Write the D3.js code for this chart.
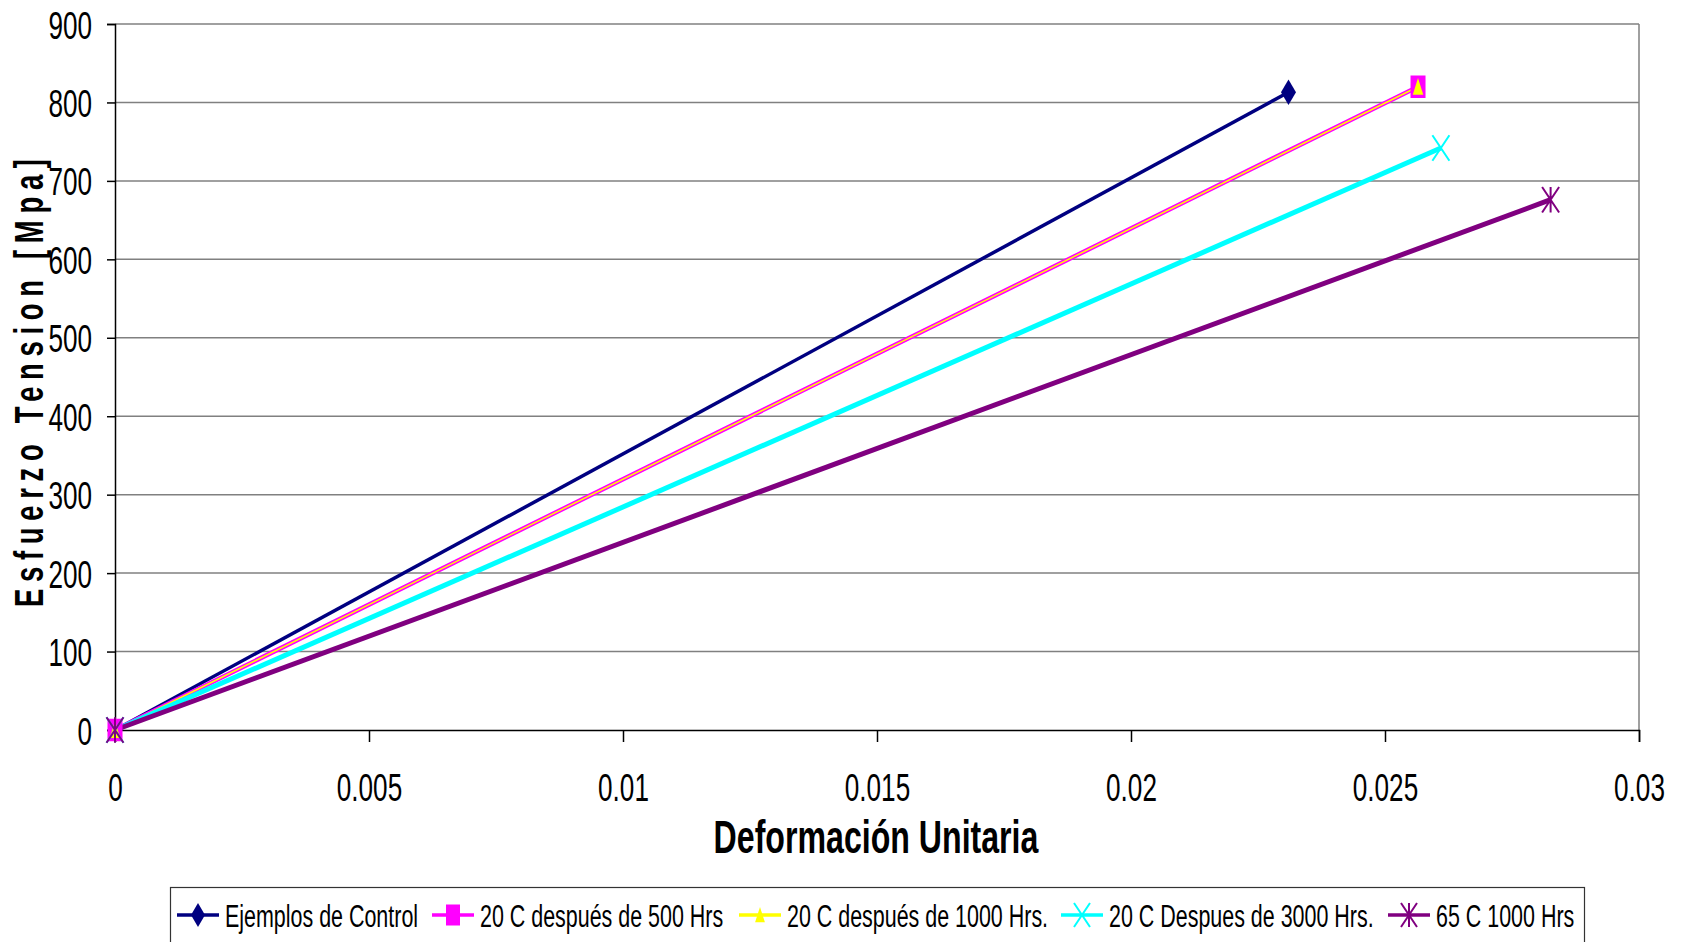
<!DOCTYPE html>
<html>
<head>
<meta charset="utf-8">
<script src="https://cdn.jsdelivr.net/npm/d3@7"></script>
<style>
  body { margin: 0; background: #fff; }
  svg { display: block; font-family: "Liberation Sans", Arial, sans-serif; }
</style>
</head>
<body>
<div id="chart-area"></div>
<script>
// series data: each run goes from the origin to its failure point
const seriesNames = ["Ejemplos de Control", "20 C después de 500 Hrs", "20 C después de 1000 Hrs.", "20 C Despues de 3000 Hrs.", "65 C 1000 Hrs"];
const strainValues = [[0, 0.0231], [0, 0.02565], [0, 0.02565], [0, 0.0261], [0, 0.02826]];
const stressValues = [[0, 813], [0, 820], [0, 820], [0, 742], [0, 676]];
const xTicks = [0, 0.005, 0.01, 0.015, 0.02, 0.025, 0.03];
const yTicks = [0, 100, 200, 300, 400, 500, 600, 700, 800, 900];

const colors = ["#000080", "#ff00ff", "#ffff00", "#00ffff", "#800080"];
const lineWidths = [3.5, 4.5, 1.5, 5, 5];
const markers = ["diamond", "square", "triangle", "x", "star"];

const SX = 0.67; // the original text is a narrow face, squeeze it horizontally

const W = 1684, H = 942;
const margin = {left: 115, top: 24, right: 45, bottom: 212};
const width = W - margin.left - margin.right,
      height = H - margin.top - margin.bottom;

const svg = d3.select("#chart-area").append("svg")
  .attr("width", W).attr("height", H);

const g = svg.append("g")
  .attr("transform", "translate(" + margin.left + "," + margin.top + ")");

const x = d3.scaleLinear().domain([0, 0.03]).range([0, width]);
const y = d3.scaleLinear().domain([0, 900]).range([height, 0]);

// gridlines
g.selectAll(".grid").data(yTicks.slice(1)).enter().append("line")
  .attr("x1", 0).attr("x2", width)
  .attr("y1", d => y(d)).attr("y2", d => y(d))
  .attr("stroke", "#808080").attr("stroke-width", 1.5);

// right border of plot area
g.append("line").attr("x1", width).attr("x2", width).attr("y1", 0).attr("y2", height)
  .attr("stroke", "#808080").attr("stroke-width", 1.5);

// axes
const xAxis = g.append("g").attr("transform", "translate(0," + height + ")")
  .call(d3.axisBottom(x).tickValues(xTicks).tickSize(12)
    .tickFormat(d => d === 0 ? "0" : String(+d.toFixed(3))));
const yAxis = g.append("g")
  .call(d3.axisLeft(y).tickValues(yTicks).tickSize(8));

[xAxis, yAxis].forEach(a => {
  a.select(".domain").attr("stroke", "#000").attr("stroke-width", 1.5);
  a.selectAll(".tick line").attr("stroke", "#000").attr("stroke-width", 1.5);
  a.selectAll("text").attr("fill", "#000").attr("font-size", 39)
    .attr("font-family", "'Liberation Sans', Arial, sans-serif");
});
xAxis.selectAll("text").attr("x", 0).attr("y", 43).attr("dy", "0.71em")
  .attr("transform", "scale(" + SX + ",1)");
yAxis.selectAll("text").attr("x", -23 / SX).attr("dy", "0.36em")
  .attr("transform", "scale(" + SX + ",1)");

// marker drawing (markers are taller than wide in the original)
function drawMarker(sel, type, color, s) {
  const m = sel.append("g").attr("transform", "scale(1,1.5)");
  if (type === "diamond") {
    m.append("path").attr("d", "M0," + (-s / 2 - 1) + "L" + (s / 2) + ",0L0," + (s / 2 + 1) + "L" + (-s / 2) + ",0Z")
      .attr("fill", color);
  } else if (type === "square") {
    m.append("rect").attr("x", -s / 2).attr("y", -s / 2).attr("width", s).attr("height", s)
      .attr("fill", color);
  } else if (type === "triangle") {
    const h = s * 0.35;
    m.append("path").attr("d", "M0," + (-h * 1.1) + "L" + h + "," + h + "L" + (-h) + "," + h + "Z")
      .attr("fill", color);
  } else if (type === "x") {
    const h = s / 2 + 1;
    m.append("path").attr("d", "M" + (-h) + "," + (-h) + "L" + h + "," + h + "M" + (-h) + "," + h + "L" + h + "," + (-h))
      .attr("stroke", color).attr("stroke-width", 2).attr("vector-effect", "non-scaling-stroke").attr("fill", "none");
  } else if (type === "star") {
    const h = s / 2 + 1;
    m.append("path").attr("d", "M" + (-h) + "," + (-h) + "L" + h + "," + h + "M" + (-h) + "," + h + "L" + h + "," + (-h) + "M0," + (-h) + "L0," + h)
      .attr("stroke", color).attr("stroke-width", 2).attr("vector-effect", "non-scaling-stroke").attr("fill", "none");
  }
}

const line = d3.line().x(d => x(d[0])).y(d => y(d[1]));

seriesNames.forEach((name, i) => {
  const pts = strainValues[i].map((v, j) => [v, stressValues[i][j]]);
  g.append("path").datum(pts).attr("d", line)
    .attr("fill", "none").attr("stroke", colors[i]).attr("stroke-width", lineWidths[i]);
});
seriesNames.forEach((name, i) => {
  const pts = strainValues[i].map((v, j) => [v, stressValues[i][j]]);
  pts.forEach(p => {
    const m = g.append("g").attr("transform", "translate(" + x(p[0]) + "," + y(p[1]) + ")");
    drawMarker(m, markers[i], colors[i], 15);
  });
});

// axis titles
svg.append("text")
  .attr("transform", "translate(876,853) scale(0.706,1)")
  .attr("text-anchor", "middle").attr("font-size", 45.5).attr("font-weight", "bold")
  .text("Deformación Unitaria");

svg.append("text")
  .attr("transform", "translate(43,383) rotate(-90) scale(" + SX + ",1)")
  .attr("text-anchor", "middle").attr("font-size", 41).attr("font-weight", "bold")
  .attr("textLength", 448 / SX).attr("lengthAdjust", "spacing")
  .text("Esfuerzo Tension [Mpa]");

// legend
const legendX = [177, 432, 739, 1061, 1388];
const legend = svg.append("g");
legend.append("rect").attr("x", 170.5).attr("y", 887.5).attr("width", 1414).attr("height", 70)
  .attr("fill", "#fff").attr("stroke", "#333").attr("stroke-width", 1.2);
seriesNames.forEach((name, i) => {
  const lg = legend.append("g").attr("transform", "translate(" + legendX[i] + ",915)");
  lg.append("line").attr("x1", 0).attr("x2", 42).attr("y1", 0).attr("y2", 0)
    .attr("stroke", colors[i]).attr("stroke-width", 3.5);
  const m = lg.append("g").attr("transform", "translate(21,0)");
  drawMarker(m, markers[i], colors[i], 14);
  lg.append("text").attr("transform", "translate(48,12) scale(0.677,1)")
    .attr("font-size", 31.7).text(name);
});
</script>
</body>
</html>
